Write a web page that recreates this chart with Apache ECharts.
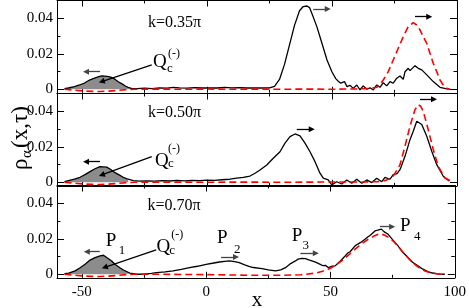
<!DOCTYPE html>
<html><head><meta charset="utf-8">
<script src="https://cdn.jsdelivr.net/npm/echarts@6/dist/echarts.min.js"></script>
<style>html,body{margin:0;padding:0;background:#fff}#c{width:469px;height:308px}</style>
</head><body><div id="c"></div>
<script>
// ---------- data ----------
const xMajorTicks = [-50, 0, 50, 100];
const xMinorTicks = [-25, 25, 75];
const yMajorTicks = [0, 0.02, 0.04];
const yMinorTicks = [0.01, 0.03];
const kLabels = ['k=0.35π', 'k=0.50π', 'k=0.70π'];
const qEnd = -30;

const black1 = [[-57,0.0004],[-55.5,0.0007],[-53,0.0015],[-51,0.0024],[-49,0.0035],[-47,0.0052],[-45,0.0063],[-43,0.0072],[-42,0.0075],[-40,0.0073],[-38.5,0.0068],[-37,0.0058],[-35.5,0.0042],[-34,0.003],[-32.5,0.0017],[-31.5,0.0011],[-30,0.0004],[-28,0.0004],[-25,0.0006],[-22,0.0004],[-19,0.0007],[-16,0.0006],[-13.5,0.0011],[-11,0.0008],[-8,0.0006],[-5,0.0009],[-2,0.0007],[1,0.0008],[4,0.0007],[7,0.001],[10,0.0008],[13,0.0009],[16,0.0007],[19,0.0008],[22,0.0007],[25,0.0008],[27,0.0016],[29,0.0055],[31,0.014],[33,0.025],[35,0.036],[37,0.0442],[38.5,0.0466],[40,0.0469],[41,0.046],[42,0.0425],[44,0.035],[46,0.0258],[48,0.0165],[50,0.0097],[51.5,0.006],[52.5,0.0045],[53.5,0.0034],[55,0.0043],[56,0.0015],[57.2,0.0022],[58.5,0.0005],[59.9,0.0024],[61.2,-0.0003],[62.5,0.0019],[63.9,0],[65.2,0.0008],[66.5,-0.0004],[67.9,0.0024],[69.2,0.0011],[70.5,0.0037],[71.9,0.0019],[73.2,0.0043],[74.5,0.0034],[75.9,0.0062],[77.2,0.0075],[78.5,0.0056],[79.2,0.0099],[80.5,0.0118],[81.2,0.0105],[83.2,0.0133],[84.5,0.0118],[85.9,0.0109],[87.9,0.0081],[90.5,0.0043],[93.2,0.0011],[95.9,0.0002],[97,0.0001]];
const red1 = [[-57,0],[-54,-0.0004],[-50,-0.0009],[-46,-0.0012],[-43,-0.0013],[-40,-0.0011],[-36,-0.0007],[-32,-0.0002],[-29,0],[-20,0.0001],[-10,0],[0,0.0001],[10,0],[20,0.0001],[30,0],[40,0.0001],[50,0],[60,0.0002],[65,0.0004],[67.9,0.0011],[69.2,0.0028],[70.5,0.0052],[72.5,0.0099],[74.5,0.0165],[76.5,0.0231],[78.5,0.0296],[80.5,0.0353],[82.5,0.0375],[83.9,0.0362],[85.2,0.0334],[86.5,0.0296],[87.9,0.0259],[89.2,0.0203],[90.5,0.0146],[91.9,0.0099],[93.2,0.0052],[94.5,0.0024],[95.9,0.0006],[97.2,0]];

const black2 = [[-57,0.0004],[-55.5,0.0009],[-53,0.0018],[-50.8,0.0028],[-48.8,0.0043],[-46.8,0.006],[-44.8,0.0076],[-42.8,0.0088],[-40.1,0.0085],[-38.5,0.0072],[-36.8,0.0054],[-35,0.004],[-33.5,0.0028],[-31.5,0.0017],[-29.5,0.0009],[-27,0.0006],[-24,0.0008],[-21,0.0006],[-18,0.0009],[-15,0.0007],[-12,0.001],[-9,0.0008],[-6,0.0011],[-3,0.0009],[0,0.0012],[3,0.0011],[6,0.0014],[9.2,0.0017],[11.9,0.0023],[14.5,0.0028],[17.2,0.0035],[19.2,0.0051],[21.2,0.0069],[23.9,0.0097],[26.5,0.0135],[29.2,0.0172],[31.2,0.022],[33.2,0.0257],[35.2,0.0272],[37.2,0.0261],[39.2,0.022],[41.2,0.0172],[43.2,0.0116],[45.2,0.0051],[46.5,0.0023],[48.5,0.0013],[49.9,-0.0015],[51.9,0.0003],[53.9,-0.001],[55.9,0.0013],[57.9,-0.0006],[59.9,0.0017],[61.9,-0.0006],[63.9,0.0013],[65.9,-0.0002],[67.9,0.0023],[69.9,0.0003],[71.2,0.0028],[73.2,0.0017],[74.5,0.0043],[76,0.0048],[77.2,0.0071],[79.2,0.0146],[81.2,0.024],[82.5,0.0287],[83.9,0.0344],[85.9,0.0325],[87.9,0.0259],[89.9,0.0175],[91.9,0.0099],[94.5,0.0034],[96.5,0.0011],[97,0.0008]];
const red2 = [[-57,0],[-54,-0.0004],[-50,-0.0009],[-46,-0.0012],[-43,-0.0013],[-40,-0.0011],[-36,-0.0007],[-32,-0.0002],[-29,0],[-15,0.0001],[0,0],[15,0.0001],[30,0],[45,0.0001],[60,0.0001],[68,0.0003],[71,0.0009],[72.8,0.0018],[74.5,0.0034],[77.2,0.0099],[79.2,0.0203],[81.2,0.0316],[83.2,0.0409],[84.5,0.0437],[85.5,0.0428],[86.5,0.04],[88.5,0.0296],[90.5,0.0184],[92.5,0.009],[95.2,0.0024],[97.2,0.0009]];

const black3 = [[-57,0.0003],[-55.3,0.0006],[-52.7,0.0019],[-50.7,0.0037],[-48.7,0.0056],[-46.7,0.008],[-44.7,0.0094],[-42.7,0.0103],[-41.3,0.0107],[-40,0.0094],[-38,0.0075],[-36.7,0.0056],[-34.7,0.0037],[-33.3,0.0024],[-30.7,0.0006],[-28,0],[-25.3,0],[-22,0.0005],[-20,0.0009],[-16.5,0.0013],[-13.3,0.0019],[-10,0.0027],[-6.7,0.0037],[-3.5,0.0045],[0,0.0056],[2.5,0.0062],[5.3,0.0069],[7.5,0.0073],[9.3,0.0075],[11.5,0.0071],[13.3,0.0065],[15.5,0.0053],[17.2,0.0045],[19,0.0038],[22.5,0.0032],[25,0.0025],[27.9,0.0019],[30,0.0025],[31.9,0.0037],[34,0.006],[35.9,0.0075],[37,0.0085],[38.5,0.009],[40,0.0088],[41,0.0082],[42.5,0.0075],[44,0.0068],[45.9,0.0056],[47,0.0048],[48,0.005],[49.2,0.0037],[50.5,0.0045],[51.9,0.0047],[53,0.0062],[54,0.0075],[55.9,0.0103],[57,0.012],[58,0.0128],[59.9,0.016],[61,0.017],[62,0.0178],[63.9,0.0197],[65,0.021],[66,0.022],[67.9,0.0244],[69,0.0248],[70.5,0.0254],[71.5,0.024],[73.2,0.0225],[75,0.0195],[77.2,0.016],[79,0.0125],[81.2,0.0094],[83,0.0068],[85.2,0.0047],[87,0.003],[89.2,0.0015],[91,0.0007],[93.2,0.0002],[96,0]];
const red3 = [[-57,0],[-54,-0.0004],[-50,-0.0009],[-46,-0.0012],[-43,-0.0013],[-40,-0.0011],[-36,-0.0007],[-32,-0.0002],[-29,0],[-20,0],[-10,-0.0001],[0,-0.0002],[10,-0.0004],[20,-0.0006],[30,-0.0006],[38,-0.0003],[43.9,0.0006],[46.5,0.0015],[49.2,0.0028],[52,0.005],[54.5,0.0075],[57,0.0105],[59.9,0.0141],[62.5,0.0172],[65.2,0.0197],[67.5,0.0215],[69.2,0.0225],[70.5,0.0226],[71.9,0.022],[74,0.0202],[75.9,0.0178],[77.9,0.0145],[79.9,0.0113],[81.9,0.0082],[83.9,0.0056],[85.9,0.0035],[87.9,0.0019],[90.5,0.0008],[93.2,0.0001],[96,0]];

const blacks = [black1, black2, black3];
const reds = [red1, red2, red3];

// arrows: [panel, x1, y1, x2, y2, color]
const arrows = [
  [0, -22.1, 0.0137, -42.1, 0.0043, '#000'],
  [0, -42.8, 0.0099, -48.4, 0.0099, '#444'],
  [0, 42.5, 0.0452, 48.3, 0.0452, '#444'],
  [0, 83.2, 0.0409, 88.9, 0.0409, '#000'],
  [1, -22.1, 0.0144, -42.1, 0.0041, '#000'],
  [1, -42.8, 0.0116, -48.4, 0.0116, '#000'],
  [1, 35.9, 0.0299, 41.9, 0.0299, '#000'],
  [1, 85.2, 0.0468, 90.8, 0.0468, '#000'],
  [2, -20.1, 0.0137, -40.8, 0.0039, '#000'],
  [2, -42.8, 0.0127, -48, 0.0127, '#444'],
  [2, 6, 0.0097, 12, 0.0097, '#444'],
  [2, 37.9, 0.0118, 44.1, 0.0118, '#444'],
  [2, 69.9, 0.0268, 74.8, 0.0268, '#444']
];
// texts: [panel, x(left), y(middle), text, fontSize]
const texts = [
  [0, -23.6, 0.0376, kLabels[0], 16],
  [1, -23.6, 0.0393, kLabels[1], 16],
  [2, -23.6, 0.0385, kLabels[2], 16],
  [0, -21.6, 0.0154, 'Q', 19], [0, -16, 0.0114, 'c', 13], [0, -15.6, 0.0199, '(-)', 12],
  [1, -20.8, 0.0122, 'Q', 19], [1, -15.6, 0.0103, 'c', 13], [1, -15.6, 0.0188, '(-)', 12],
  [2, -20, 0.0156, 'Q', 19], [2, -14.8, 0.0131, 'c', 13], [2, -14, 0.0221, '(-)', 12],
  [2, -40.4, 0.0185, 'P', 19], [2, -35.2, 0.0131, '1', 13],
  [2, 4.4, 0.0202, 'P', 19], [2, 11.2, 0.0137, '2', 13],
  [2, 34.4, 0.0213, 'P', 19], [2, 38.8, 0.0159, '3', 13],
  [2, 78, 0.0269, 'P', 19], [2, 83.6, 0.021, '4', 13]
];

// ---------- layout ----------
const FONT = '"Liberation Serif", serif';
const gridTop = [0.5, 93.5, 185.5];
const gridH = 92.3;
const chart = echarts.init(document.getElementById('c'), null, {renderer: 'canvas'});

const grid = gridTop.map(t => ({left: 57, width: 400, top: t, height: gridH, show: false}));
const xAxis = [], yAxis = [];
function xAx(i, pos, ticks, len, line, labels) {
  return {gridIndex: i, type: 'value', position: pos, min: -60, max: 100,
    axisLine: {show: line, onZero: false, lineStyle: {color: '#000', width: 1}},
    axisTick: {show: true, inside: true, length: len, customValues: ticks, lineStyle: {color: '#000', width: 1}},
    axisLabel: {show: labels, customValues: xMajorTicks, color: '#000', fontFamily: 'Liberation Serif', fontSize: 15, margin: 7},
    splitLine: {show: false}};
}
function yAx(i, pos, ticks, len, line, labels) {
  return {gridIndex: i, type: 'value', position: pos, min: -0.002, max: 0.05,
    axisLine: {show: line, onZero: false, lineStyle: {color: '#000', width: 1}},
    axisTick: {show: true, inside: true, length: len, customValues: ticks, lineStyle: {color: '#000', width: 1}},
    axisLabel: {show: labels, customValues: yMajorTicks, color: '#000', fontFamily: 'Liberation Serif', fontSize: 15, margin: 4},
    splitLine: {show: false}};
}
for (let i = 0; i < 3; i++) {
  xAxis.push(xAx(i, 'bottom', xMajorTicks, 6, true, i === 2));
  xAxis.push(xAx(i, 'bottom', xMinorTicks, 3, false, false));
  xAxis.push(xAx(i, 'top', xMajorTicks, 6, true, false));
  xAxis.push(xAx(i, 'top', xMinorTicks, 3, false, false));
  yAxis.push(yAx(i, 'left', yMajorTicks, 7, true, true));
  yAxis.push(yAx(i, 'left', yMinorTicks, 3.5, false, false));
  yAxis.push(yAx(i, 'right', yMajorTicks, 7, true, false));
  yAxis.push(yAx(i, 'right', yMinorTicks, 3.5, false, false));
}

const series = [];
for (let i = 0; i < 3; i++) {
  const ax = {xAxisIndex: i * 4, yAxisIndex: i * 4};
  series.push(Object.assign({type: 'line', data: blacks[i].filter(p => p[0] <= qEnd), showSymbol: false,
    lineStyle: {width: 0}, areaStyle: {color: '#8c8c8c', opacity: 1}, silent: true, z: 1}, ax));
  series.push(Object.assign({type: 'line', data: blacks[i], showSymbol: false,
    lineStyle: {color: '#000', width: 1.3}, silent: true, z: 2,
    markLine: {silent: true, animation: false, symbol: ['none', 'triangle'], symbolSize: 6, label: {show: false},
      data: arrows.filter(a => a[0] === i).map(a => [
        {coord: [a[1], a[2]], lineStyle: {color: a[5], width: 1.3, type: 'solid'}, itemStyle: {color: a[5]}},
        {coord: [a[3], a[4]]}])}}, ax));
  series.push(Object.assign({type: 'line', data: reds[i], showSymbol: false,
    lineStyle: {color: '#ff0000', width: 1.6, type: [7, 4]}, silent: true, z: 3}, ax));
}

chart.setOption({animation: false, grid, xAxis, yAxis, series});

const graphic = texts.map(t => {
  const p = chart.convertToPixel({xAxisIndex: t[0] * 4, yAxisIndex: t[0] * 4}, [t[1], t[2]]);
  return {type: 'text', x: p[0], y: p[1], silent: true,
    style: {text: t[3], font: t[4] + 'px ' + FONT, fill: '#000', textAlign: 'left', textVerticalAlign: 'middle'}};
});
graphic.push({type: 'text', x: 257, y: 300, silent: true,
  style: {text: 'x', font: '21px ' + FONT, fill: '#000', textAlign: 'center', textVerticalAlign: 'middle'}});
graphic.push({type: 'group', x: 21, y: 130, rotation: Math.PI / 2, silent: true, children: [
  {type: 'text', x: -40, y: 0, style: {text: 'ρ', font: '23px ' + FONT, fill: '#000', textAlign: 'left', textVerticalAlign: 'middle'}},
  {type: 'text', x: -28, y: 6, style: {text: 'α', font: '15px ' + FONT, fill: '#000', textAlign: 'left', textVerticalAlign: 'middle'}},
  {type: 'text', x: -18, y: 0, style: {text: '(x,τ)', font: '23px ' + FONT, fill: '#000', textAlign: 'left', textVerticalAlign: 'middle'}}
]});
chart.setOption({graphic});
</script></body></html>
